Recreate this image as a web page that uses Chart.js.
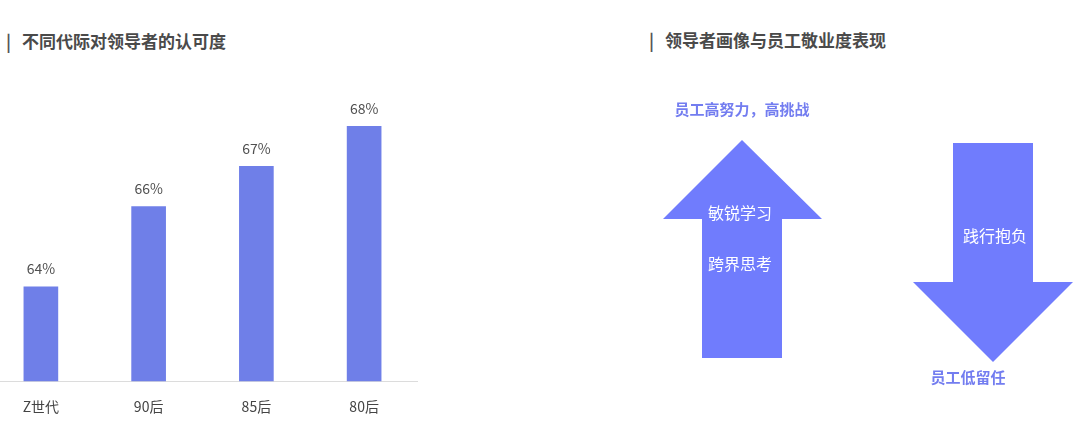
<!DOCTYPE html>
<html>
<head>
<meta charset="utf-8">
<script src="https://cdn.jsdelivr.net/npm/chart.js@4.4.1/dist/chart.umd.min.js"></script>
<style>
  html, body { margin:0; padding:0; background:#fff; width:1080px; height:425px; overflow:hidden; position:relative;
    font-family:"Noto Sans CJK SC","Noto Sans",sans-serif; }
  .title { position:absolute; font-size:17px; font-weight:bold; color:#4a4a4a; white-space:nowrap; line-height:20px; }
  .title .bar { color:#555; font-weight:bold; margin-right:11px; }
  #chartWrap { position:absolute; left:-13px; top:60px; width:431px; height:372px; }
  .cap { position:absolute; font-size:15px; font-weight:bold; color:#737df0; white-space:nowrap; transform:translate(-50%,-50%); line-height:18px; }
  .inner { position:absolute; font-size:16px; color:#fff; white-space:nowrap; transform:translate(-50%,-50%); line-height:20px; }
  svg { position:absolute; left:0; top:0; }
</style>
</head>
<body>
<div class="title" style="left:6px; top:31px;"><span class="bar">|</span>不同代际对领导者的认可度</div>
<div class="title" style="left:649px; top:30px;"><span class="bar">|</span>领导者画像与员工敬业度表现</div>

<div id="chartWrap"><canvas id="c"></canvas></div>

<svg width="1080" height="425">
  <polygon points="742,140 822,219 782,219 782,358 702,358 702,219 663,219" fill="#707cfd"/>
  <polygon points="953,143 1033,143 1033,282 1073,282 993,362 913,282 953,282" fill="#707cfd"/>
</svg>
<div class="cap" style="left:742px; top:109px;">员工高努力，高挑战</div>
<div class="inner" style="left:740px; top:212px;">敏锐学习</div>
<div class="inner" style="left:740px; top:263px;">跨界思考</div>
<div class="inner" style="left:995px; top:235px;">践行抱负</div>
<div class="cap" style="left:968px; top:377px;">员工低留任</div>

<script>
const categories = ["Z世代", "90后", "85后", "80后"];
const approval = [64, 66, 67, 68];
const valueLabels = ["64%", "66%", "67%", "68%"];

const labelPlugin = {
  id: 'valueLabels',
  afterDatasetsDraw(chart) {
    const ctx = chart.ctx;
    const meta = chart.getDatasetMeta(0);
    ctx.save();
    ctx.font = '14px "Noto Sans CJK SC", "Noto Sans", sans-serif';
    ctx.fillStyle = '#505050';
    ctx.textAlign = 'center';
    ctx.textBaseline = 'middle';
    meta.data.forEach((bar, i) => {
      ctx.fillText(valueLabels[i], bar.x, bar.y - 18);
    });
    ctx.restore();
  }
};

new Chart(document.getElementById('c'), {
  type: 'bar',
  data: {
    labels: categories,
    datasets: [{
      data: approval,
      backgroundColor: '#6f7fe8',
      barThickness: 34,
      borderWidth: 0
    }]
  },
  options: {
    responsive: true,
    maintainAspectRatio: false,
    animation: false,
    layout: { padding: 0 },
    plugins: { legend: { display: false }, tooltip: { enabled: false } },
    scales: {
      x: {
        grid: { display: false, drawTicks: false },
        border: { display: true, color: '#dcdcdc', width: 1 },
        ticks: { color: '#444', padding: 17, font: { size: 14, family: '"Noto Sans CJK SC", "Noto Sans", sans-serif' } }
      },
      y: {
        display: false,
        min: 61.65,
        max: 69.65
      }
    }
  },
  plugins: [labelPlugin]
});
</script>
</body>
</html>
